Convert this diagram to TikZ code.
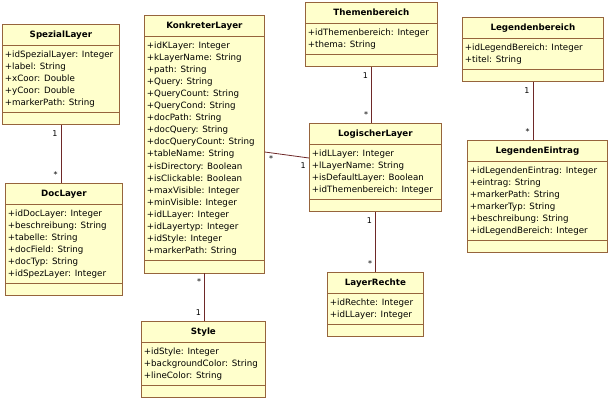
\documentclass[tikz,border=0pt]{standalone}
\usepackage{fontspec}
\setmainfont{DejaVu Sans}
\usetikzlibrary{shapes.multipart,positioning}

\definecolor{classfill}{RGB}{255,255,204}
\definecolor{classline}{RGB}{150,100,60}
\definecolor{assocline}{RGB}{110,40,40}

% class name box of a given width, attribute list as one left column
\newcommand{\ctitle}[2]{\makebox[#1][c]{\bfseries\rule[-4pt]{0pt}{14pt}#2}}
\newcommand{\cattrs}[1]{\begin{tabular}{@{}l@{}}#1\end{tabular}}

\begin{document}
\begin{tikzpicture}
  [x=1pt,y=-1pt,
   umlclass/.style={rectangle split,rectangle split parts=3,anchor=north west,
     rectangle split part align={center,left,left},
     draw=classline,fill=classfill,line width=.8pt,
     inner xsep=2.5pt,inner ysep=3pt,rectangle split empty part height=4pt,
     font=\fontsize{8.7}{12.1}\selectfont},
   assoc/.style={draw=assocline,line width=.8pt},
   mult/.style={font=\fontsize{8}{9}\selectfont,inner sep=0pt}]
  \useasboundingbox (0,0) rectangle (611,405);

  \node[umlclass] (spez) at (2,24) {\ctitle{112pt}{SpezialLayer}
    \nodepart{two}\cattrs{+idSpezialLayer: Integer\\+label: String\\+xCoor: Double\\
    +yCoor: Double\\+markerPath: String}
    \nodepart{three}};
  \node[umlclass] (doc) at (5,183) {\ctitle{112pt}{DocLayer}
    \nodepart{two}\cattrs{+idDocLayer: Integer\\+beschreibung: String\\+tabelle: String\\
    +docField: String\\+docTyp: String\\+idSpezLayer: Integer}
    \nodepart{three}};
  \node[umlclass] (konkret) at (144,15) {\ctitle{115pt}{KonkreterLayer}
    \nodepart{two}\cattrs{+idKLayer: Integer\\+kLayerName: String\\+path: String\\
    +Query: String\\+QueryCount: String\\+QueryCond: String\\+docPath: String\\
    +docQuery: String\\+docQueryCount: String\\+tableName: String\\
    +isDirectory: Boolean\\+isClickable: Boolean\\+maxVisible: Integer\\
    +minVisible: Integer\\+idLLayer: Integer\\+idLayertyp: Integer\\
    +idStyle: Integer\\+markerPath: String}
    \nodepart{three}};
  \node[umlclass] (style) at (141,321) {\ctitle{119pt}{Style}
    \nodepart{two}\cattrs{+idStyle: Integer\\+backgroundColor: String\\+lineColor: String}
    \nodepart{three}};
  \node[umlclass] (thema) at (305,2) {\ctitle{127pt}{Themenbereich}
    \nodepart{two}\cattrs{+idThemenbereich: Integer\\+thema: String}
    \nodepart{three}};
  \node[umlclass] (logisch) at (309,123) {\ctitle{127pt}{LogischerLayer}
    \nodepart{two}\cattrs{+idLLayer: Integer\\+lLayerName: String\\
    +isDefaultLayer: Boolean\\+idThemenbereich: Integer}
    \nodepart{three}};
  \node[umlclass] (rechte) at (327,272) {\ctitle{91pt}{LayerRechte}
    \nodepart{two}\cattrs{+idRechte: Integer\\+idLLayer: Integer}
    \nodepart{three}};
  \node[umlclass] (legbereich) at (462,17) {\ctitle{136pt}{Legendenbereich}
    \nodepart{two}\cattrs{+idLegendBereich: Integer\\+titel: String}
    \nodepart{three}};
  \node[umlclass] (legeintrag) at (467,140) {\ctitle{135pt}{LegendenEintrag}
    \nodepart{two}\cattrs{+idLegendenEintrag: Integer\\+eintrag: String\\
    +markerPath: String\\+markerTyp: String\\+beschreibung: String\\
    +idLegendBereich: Integer}
    \nodepart{three}};

  % vertical associations
  \foreach \from/\to/\ma/\mb in {spez/doc/1/*,konkret/style/*/1,thema/logisch/1/*,
      logisch/rechte/1/*,legbereich/legeintrag/1/*}
    \draw[assoc] (\from.south) node[mult,below left=5pt and 3pt] {\ma}
      -- (\from.south |- \to.north) node[mult,above left=5pt and 3pt] {\mb};

  \draw[assoc] (konkret.east |- 0,152) node[mult,below right=3pt and 4pt] {*}
    -- (logisch.west |- 0,158) node[mult,below left=4pt and 3pt] {1};
\end{tikzpicture}
\end{document}
